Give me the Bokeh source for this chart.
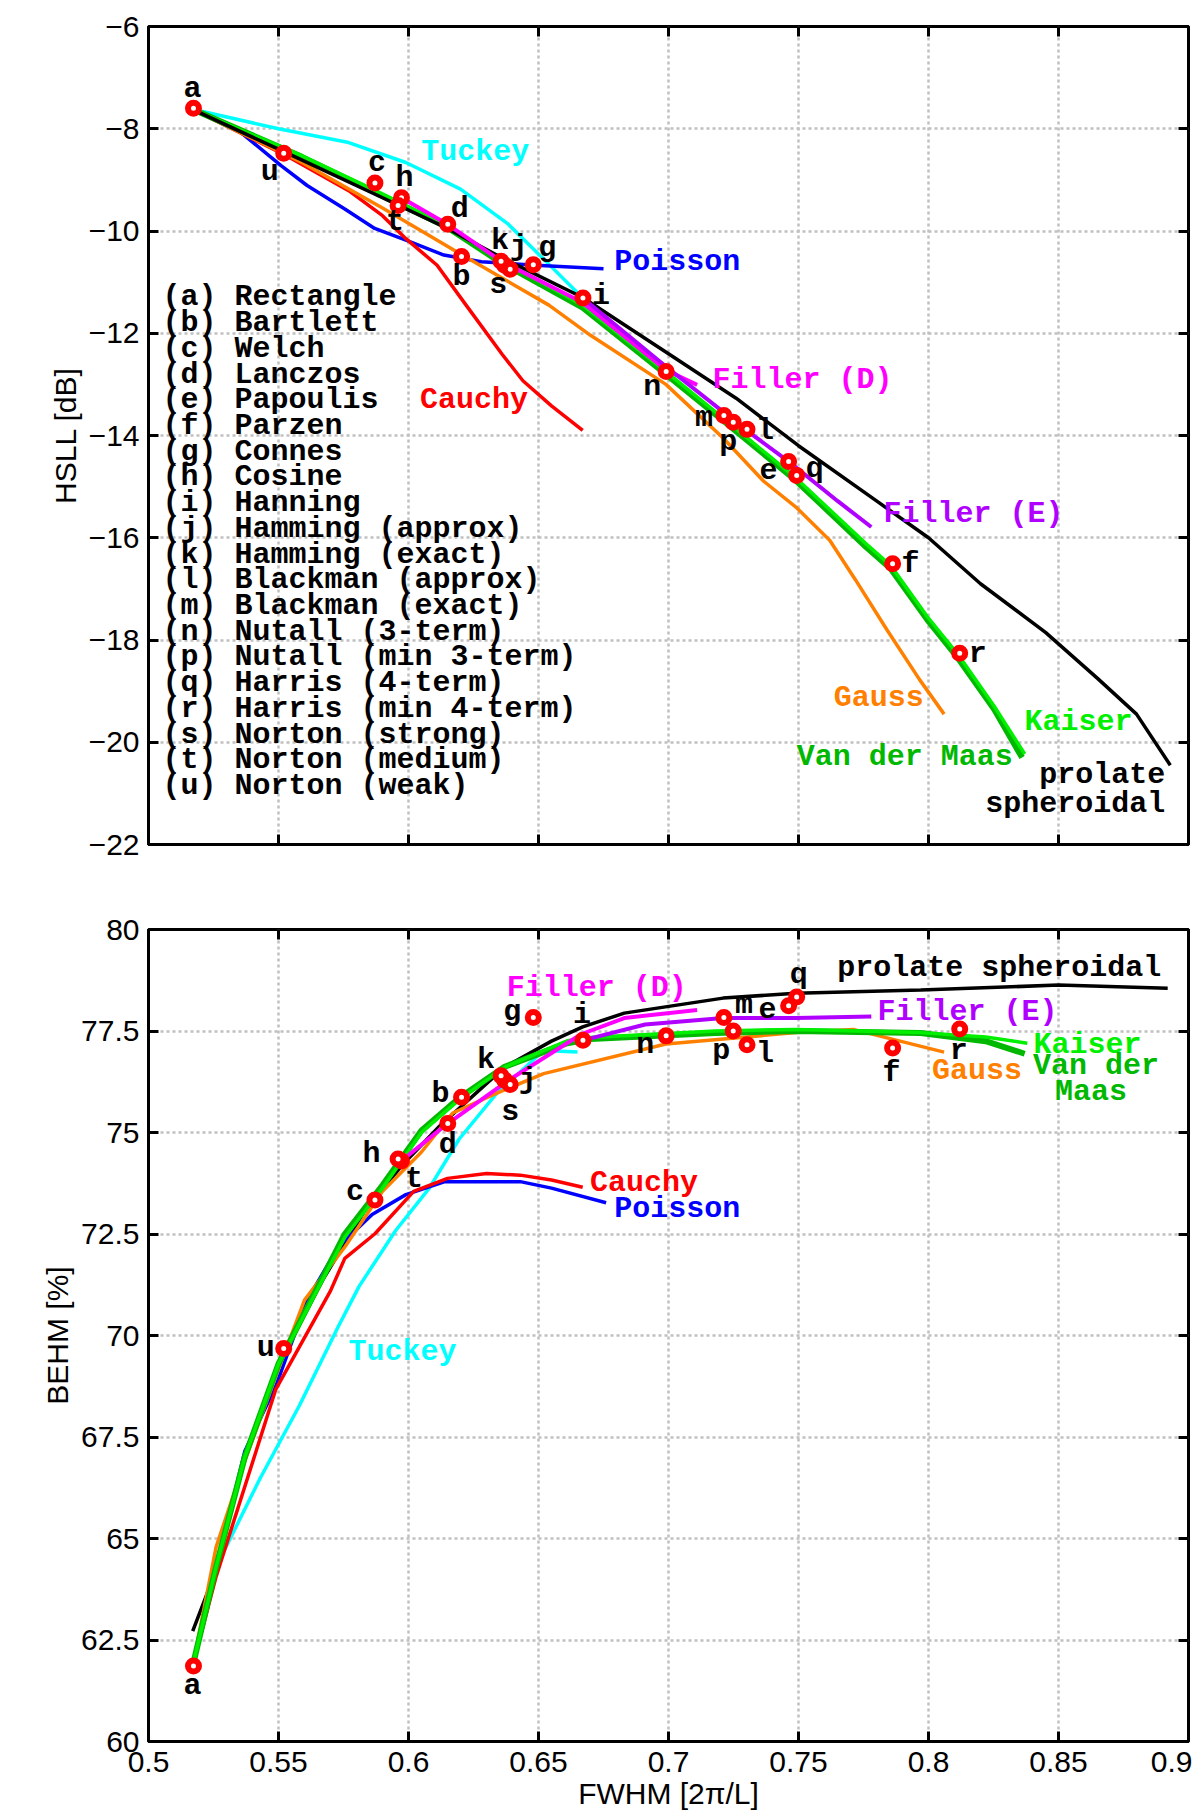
from bokeh.plotting import figure
from bokeh.layouts import column
from bokeh.models import LinearAxis, FixedTicker, Range1d
from bokeh.core.properties import value
from bokeh.embed import file_html
from bokeh.resources import INLINE

# ---------------- ticks ----------------
x_ticks = [0.5, 0.55, 0.6, 0.65, 0.7, 0.75, 0.8, 0.85, 0.9]
x_tick_labels = ["0.5", "0.55", "0.6", "0.65", "0.7", "0.75", "0.8", "0.85", "0.9"]
hsll_ticks = [-6, -8, -10, -12, -14, -16, -18, -20, -22]
hsll_tick_labels = ["\u22126", "\u22128", "\u221210", "\u221212", "\u221214",
                    "\u221216", "\u221218", "\u221220", "\u221222"]
behm_ticks = [60, 62.5, 65, 67.5, 70, 72.5, 75, 77.5, 80]
behm_tick_labels = ["60", "62.5", "65", "67.5", "70", "72.5", "75", "77.5", "80"]

# ---------------- windows (points) ----------------
win_letters = ["a", "b", "c", "d", "e", "f", "g", "h", "i", "j",
               "k", "l", "m", "n", "p", "q", "r", "s", "t", "u"]
win_names = ["Rectangle", "Bartlett", "Welch", "Lanczos", "Papoulis", "Parzen",
             "Connes", "Cosine", "Hanning", "Hamming (approx)", "Hamming (exact)",
             "Blackman (approx)", "Blackman (exact)", "Nutall (3-term)",
             "Nutall (min 3-term)", "Harris (4-term)", "Harris (min 4-term)",
             "Norton (strong)", "Norton (medium)", "Norton (weak)"]
win_fwhm = [0.5173, 0.6204, 0.5871, 0.6151, 0.7462, 0.7862, 0.6480, 0.5973, 0.6671, 0.6370,
            0.6356, 0.7302, 0.7213, 0.6991, 0.7249, 0.7493, 0.8120, 0.6391, 0.5960, 0.5520]
win_hsll = [-7.60, -10.50, -9.06, -9.87, -14.51, -16.51, -10.66, -9.35, -11.31, -10.67,
            -10.59, -13.88, -13.61, -12.75, -13.74, -14.78, -18.26, -10.75, -9.50, -8.48]
win_behm = [61.86, 75.87, 73.34, 75.22, 78.12, 77.08, 77.83, 74.30, 77.27, 76.29,
            76.40, 77.16, 77.83, 77.38, 77.50, 78.34, 77.55, 76.18, 74.35, 69.68]

# ---------------- curves: HSLL ----------------
tuckey_hsll_x = [0.517, 0.55, 0.577, 0.599, 0.62, 0.638, 0.652, 0.667]
tuckey_hsll_y = [-7.62, -8.0, -8.27, -8.66, -9.18, -9.85, -10.55, -11.31]
poisson_hsll_x = [0.517, 0.535, 0.551, 0.561, 0.5755, 0.587, 0.599, 0.6136, 0.628, 0.649, 0.675]
poisson_hsll_y = [-7.62, -8.05, -8.72, -9.11, -9.57, -9.95, -10.18, -10.47, -10.60, -10.67, -10.74]
cauchy_hsll_x = [0.517, 0.552, 0.577, 0.590, 0.599, 0.611, 0.622, 0.636, 0.644, 0.655, 0.667]
cauchy_hsll_y = [-7.62, -8.5, -9.21, -9.70, -10.15, -10.67, -11.44, -12.41, -12.93, -13.42, -13.9]
gauss_hsll_x = [0.517, 0.559, 0.59, 0.62, 0.634, 0.654, 0.67, 0.699, 0.721, 0.7365,
                0.749, 0.762, 0.772, 0.784, 0.7965, 0.806]
gauss_hsll_y = [-7.62, -8.66, -9.55, -10.45, -10.86, -11.45, -12.04, -13.0, -14.05, -14.89,
                -15.40, -16.05, -16.83, -17.8, -18.77, -19.45]
vdm_hsll_x = [0.517, 0.559, 0.587, 0.615, 0.635, 0.667, 0.699, 0.722, 0.749, 0.776,
              0.7854, 0.7995, 0.8113, 0.8252, 0.836]
vdm_hsll_y = [-7.62, -8.55, -9.24, -9.93, -10.6, -11.5, -12.8, -13.75, -14.88, -16.18,
              -16.6, -17.6, -18.35, -19.35, -20.3]
kaiser_hsll_x = [0.517, 0.559, 0.587, 0.615, 0.635, 0.667, 0.699, 0.722, 0.749, 0.776,
                 0.7854, 0.7995, 0.8113, 0.8252, 0.837]
kaiser_hsll_y = [-7.62, -8.53, -9.2, -9.9, -10.55, -11.45, -12.75, -13.7, -14.83, -16.12,
                 -16.54, -17.54, -18.28, -19.29, -20.23]
prolate_hsll_x = [0.517, 0.55, 0.59, 0.615, 0.635, 0.667, 0.70, 0.726, 0.75, 0.78,
                  0.80, 0.82, 0.845, 0.865, 0.88, 0.893]
prolate_hsll_y = [-7.62, -8.4, -9.35, -9.95, -10.5, -11.3, -12.4, -13.27, -14.2, -15.28,
                  -16.0, -16.9, -17.85, -18.75, -19.45, -20.45]
fillerD_hsll_x = [0.5973, 0.615, 0.636, 0.667, 0.699, 0.711]
fillerD_hsll_y = [-9.35, -9.87, -10.6, -11.4, -12.72, -13.01]
fillerE_hsll_x = [0.667, 0.699, 0.7305, 0.746, 0.765, 0.778]
fillerE_hsll_y = [-11.31, -12.65, -13.92, -14.5, -15.28, -15.79]

# ---------------- curves: BEHM ----------------
tuckey_behm_x = [0.517, 0.526, 0.543, 0.558, 0.573, 0.581, 0.595, 0.608, 0.6195, 0.634, 0.652, 0.665]
tuckey_behm_y = [61.86, 64.30, 66.49, 68.27, 70.22, 71.21, 72.58, 73.63, 74.84, 75.97, 77.02, 76.98]
poisson_behm_x = [0.517, 0.526, 0.537, 0.549, 0.561, 0.573, 0.586, 0.599, 0.614, 0.643, 0.655, 0.676]
poisson_behm_y = [61.86, 64.22, 67.14, 68.76, 70.87, 72.18, 72.98, 73.47, 73.79, 73.79, 73.63, 73.27]
cauchy_behm_x = [0.517, 0.526, 0.549, 0.570, 0.5755, 0.587, 0.602, 0.615, 0.630, 0.643, 0.655, 0.667]
cauchy_behm_y = [61.86, 64.06, 68.68, 71.1, 71.9, 72.5, 73.55, 73.87, 73.99, 73.95, 73.83, 73.65]
gauss_behm_x = [0.517, 0.526, 0.537, 0.549, 0.560, 0.5755, 0.590, 0.605, 0.617, 0.634,
                0.652, 0.699, 0.749, 0.771, 0.806]
gauss_behm_y = [61.86, 64.79, 66.9, 69.0, 70.87, 72.18, 73.55, 74.52, 75.48, 75.97,
                76.45, 77.18, 77.46, 77.54, 76.98]
vdm_behm_x = [0.517, 0.526, 0.537, 0.55, 0.5755, 0.590, 0.605, 0.6195, 0.637, 0.661,
              0.670, 0.718, 0.749, 0.797, 0.822, 0.837]
vdm_behm_y = [61.86, 64.3, 67.0, 69.3, 72.5, 73.7, 75.05, 75.85, 76.62, 77.2,
              77.3, 77.45, 77.5, 77.45, 77.25, 76.94]
kaiser_behm_x = [0.517, 0.526, 0.537, 0.55, 0.5755, 0.590, 0.605, 0.6195, 0.637, 0.661,
                 0.670, 0.718, 0.749, 0.797, 0.822, 0.838]
kaiser_behm_y = [61.86, 64.3, 67.0, 69.3, 72.42, 73.63, 75.0, 75.81, 76.61, 77.26,
                 77.34, 77.5, 77.54, 77.46, 77.35, 77.2]
prolate_behm_x = [0.517, 0.526, 0.537, 0.55, 0.567, 0.583, 0.5975, 0.612, 0.637, 0.655,
                  0.667, 0.683, 0.721, 0.749, 0.797, 0.85, 0.892]
prolate_behm_y = [62.72, 64.22, 67.06, 69.3, 71.37, 73.06, 74.19, 75.16, 76.61, 77.25,
                  77.6, 77.94, 78.31, 78.43, 78.51, 78.63, 78.55]
fillerD_behm_x = [0.5973, 0.6144, 0.6386, 0.6664, 0.683, 0.711]
fillerD_behm_y = [74.3, 75.19, 76.29, 77.42, 77.82, 78.02]
fillerE_behm_x = [0.667, 0.691, 0.721, 0.749, 0.778]
fillerE_behm_y = [77.27, 77.66, 77.82, 77.82, 77.86]

# ---------------- styles ----------------
C_CYAN = "#00ffff"
C_BLUE = "#0000ff"
C_RED = "#ff0000"
C_ORANGE = "#ff8000"
C_VDM = "#00b800"
C_KAISER = "#00f000"
C_BLACK = "#000000"
C_FILLD = "#ff00ff"
C_FILLE = "#b000ff"

MONO = value("Liberation Mono")
SANS = "Liberation Sans"
TXT = "30px"
LW = 3.5

# letter-label pixel offsets (screen px, +y downward)
top_lab_dx = [-1, 0, 2, 12, -20, 18, 14, 3, 18, 14, -1, 18, -20, -14, -5, 18, 18, -12, -3, -14]
top_lab_dy = [-19, 20, -20, -15, 7, 0, -17, -20, -2, -18, -20, 2, 2, 15, 20, -6, 1, 16, 17, 19]
bot_lab_dx = [-1, -21, -20, 0, -21, -1, -21, -30, -1, 23, -15, 18, 20, -21, -12, 2, -1, 0, 16, -18]
bot_lab_dy = [20, -3, -8, 21, 2, 25, -6, -7, -25, 0, -16, 9, -13, 9, 20, -22, 22, 27, 20, 0]


def hidden_axis(ticks):
    return LinearAxis(ticker=FixedTicker(ticks=ticks), major_label_text_font_size="0px",
                      major_label_text_color=None, major_label_standoff=0,
                      major_tick_in=10, major_tick_out=0, major_tick_line_width=3,
                      minor_tick_line_color=None, axis_line_color=None,
                      axis_label_text_color=None)


def style(p, yticks, ylabels, ylabel, show_x, xlabel=""):
    p.background_fill_color = "white"
    p.border_fill_color = "white"
    p.outline_line_color = "black"
    p.outline_line_width = 3
    p.xaxis.ticker = FixedTicker(ticks=x_ticks)
    p.yaxis.ticker = FixedTicker(ticks=yticks)
    p.xgrid.ticker = FixedTicker(ticks=x_ticks)
    p.ygrid.ticker = FixedTicker(ticks=yticks)
    p.grid.grid_line_color = "#c0c0c0"
    p.grid.grid_line_width = 2.5
    p.grid.grid_line_dash = "3 3"
    for ax in (p.xaxis[0], p.yaxis[0]):
        ax.axis_line_width = 3
        ax.major_tick_in = 10
        ax.major_tick_out = 0
        ax.major_tick_line_width = 3
        ax.minor_tick_line_color = None
        ax.major_label_text_font = SANS
        ax.major_label_text_font_size = "30px"
        ax.major_label_text_color = "black"
        ax.axis_label_text_font = SANS
        ax.axis_label_text_font_size = "30px"
        ax.axis_label_text_font_style = "normal"
        ax.axis_label_text_color = "black"
    p.yaxis[0].major_label_overrides = {float(t): l for t, l in zip(yticks, ylabels)}
    p.yaxis[0].axis_label = ylabel
    p.yaxis[0].major_label_standoff = 9
    p.yaxis[0].axis_label_standoff = 4
    if show_x:
        p.xaxis[0].major_label_overrides = {float(t): l for t, l in zip(x_ticks, x_tick_labels)}
        p.xaxis[0].axis_label = xlabel
        p.xaxis[0].major_label_standoff = 10
        p.xaxis[0].axis_label_standoff = 2
    else:
        p.xaxis[0].major_label_text_font_size = "0px"
        p.xaxis[0].major_label_text_color = None
        p.xaxis[0].major_label_standoff = 0
    p.add_layout(hidden_axis(yticks), "right")
    p.add_layout(hidden_axis(x_ticks), "above")


def add_text(p, x, y, text, color, align="left"):
    p.text(x=x, y=y, text=text, text_color=color, text_font=MONO,
           text_font_size=TXT, text_font_style="bold", text_align=align,
           text_baseline="middle")


MK_SIZE = 11
MK_LW = 6

# ================= TOP: HSLL =================
p1 = figure(width=1192, height=884, x_range=Range1d(0.5, 0.9), y_range=Range1d(-22, -6),
            output_backend="svg", toolbar_location=None,
            min_border_left=148, min_border_right=4, min_border_top=26, min_border_bottom=40)
style(p1, hsll_ticks, hsll_tick_labels, "HSLL [dB]", False)

p1.line(tuckey_hsll_x, tuckey_hsll_y, line_color=C_CYAN, line_width=LW)
p1.line(poisson_hsll_x, poisson_hsll_y, line_color=C_BLUE, line_width=LW)
p1.line(cauchy_hsll_x, cauchy_hsll_y, line_color=C_RED, line_width=LW)
p1.line(gauss_hsll_x, gauss_hsll_y, line_color=C_ORANGE, line_width=LW)
p1.line(vdm_hsll_x, vdm_hsll_y, line_color=C_VDM, line_width=6)
p1.line(kaiser_hsll_x, kaiser_hsll_y, line_color=C_KAISER, line_width=LW)
p1.line(prolate_hsll_x, prolate_hsll_y, line_color=C_BLACK, line_width=LW)
p1.line(fillerD_hsll_x, fillerD_hsll_y, line_color=C_FILLD, line_width=4)
p1.line(fillerE_hsll_x, fillerE_hsll_y, line_color=C_FILLE, line_width=4)

p1.scatter(win_fwhm, win_hsll, size=MK_SIZE, marker="circle", fill_color="white",
           line_color="red", line_width=MK_LW)
p1.text(x=win_fwhm, y=win_hsll, text=win_letters, x_offset=top_lab_dx, y_offset=top_lab_dy,
        text_color="black", text_font=MONO, text_font_size=TXT, text_font_style="bold",
        text_align="center", text_baseline="middle")

add_text(p1, [0.6049], [-8.45], ["Tuckey"], C_CYAN)
add_text(p1, [0.6791], [-10.61], ["Poisson"], C_BLUE)
add_text(p1, [0.6044], [-13.31], ["Cauchy"], C_RED)
add_text(p1, [0.7169], [-12.91], ["Filler (D)"], C_FILLD)
add_text(p1, [0.7827], [-15.54], ["Filler (E)"], C_FILLE)
add_text(p1, [0.7636], [-19.14], ["Gauss"], C_ORANGE)
add_text(p1, [0.8369], [-19.61], ["Kaiser"], C_KAISER)
add_text(p1, [0.7493], [-20.29], ["Van der Maas"], C_VDM)
add_text(p1, [0.8911, 0.8911], [-20.65, -21.21], ["prolate", "spheroidal"], C_BLACK, "right")

legend_lines = ["(%s) %s" % (l, n) for l, n in zip(win_letters, win_names)]
legend_y = [-11.30 - 0.503 * i for i in range(len(legend_lines))]
p1.text(x=[0.5054] * len(legend_lines), y=legend_y, text=legend_lines,
        text_color="black", text_font=MONO, text_font_size=TXT, text_font_style="bold",
        text_align="left", text_baseline="alphabetic")

# ================= BOTTOM: BEHM =================
p2 = figure(width=1192, height=929, x_range=Range1d(0.5, 0.9), y_range=Range1d(60, 80),
            output_backend="svg", toolbar_location=None,
            min_border_left=148, min_border_right=4, min_border_top=45, min_border_bottom=72)
style(p2, behm_ticks, behm_tick_labels, "BEHM [%]", True, "FWHM [2\u03c0/L]")

p2.line(tuckey_behm_x, tuckey_behm_y, line_color=C_CYAN, line_width=LW)
p2.line(prolate_behm_x, prolate_behm_y, line_color=C_BLACK, line_width=LW)
p2.line(poisson_behm_x, poisson_behm_y, line_color=C_BLUE, line_width=LW)
p2.line(cauchy_behm_x, cauchy_behm_y, line_color=C_RED, line_width=LW)
p2.line(gauss_behm_x, gauss_behm_y, line_color=C_ORANGE, line_width=LW)
p2.line(vdm_behm_x, vdm_behm_y, line_color=C_VDM, line_width=6)
p2.line(kaiser_behm_x, kaiser_behm_y, line_color=C_KAISER, line_width=LW)
p2.line(fillerD_behm_x, fillerD_behm_y, line_color=C_FILLD, line_width=4)
p2.line(fillerE_behm_x, fillerE_behm_y, line_color=C_FILLE, line_width=4)

p2.scatter(win_fwhm, win_behm, size=MK_SIZE, marker="circle", fill_color="white",
           line_color="red", line_width=MK_LW)
p2.text(x=win_fwhm, y=win_behm, text=win_letters, x_offset=bot_lab_dx, y_offset=bot_lab_dy,
        text_color="black", text_font=MONO, text_font_size=TXT, text_font_style="bold",
        text_align="center", text_baseline="middle")

add_text(p2, [0.7649], [79.04], ["prolate spheroidal"], C_BLACK)
add_text(p2, [0.6378], [78.57], ["Filler (D)"], C_FILLD)
add_text(p2, [0.7804], [77.98], ["Filler (E)"], C_FILLE)
add_text(p2, [0.8404], [77.16], ["Kaiser"], C_KAISER)
add_text(p2, [0.8644, 0.8625], [76.63, 76.0], ["Van der", "Maas"], C_VDM, "center")
add_text(p2, [0.8013], [76.51], ["Gauss"], C_ORANGE)
add_text(p2, [0.6698], [73.76], ["Cauchy"], C_RED)
add_text(p2, [0.6791], [73.11], ["Poisson"], C_BLUE)
add_text(p2, [0.5769], [69.6], ["Tuckey"], C_CYAN)

layout = column(p1, p2, spacing=0)
open("out.html", "w").write(file_html(layout, INLINE))
